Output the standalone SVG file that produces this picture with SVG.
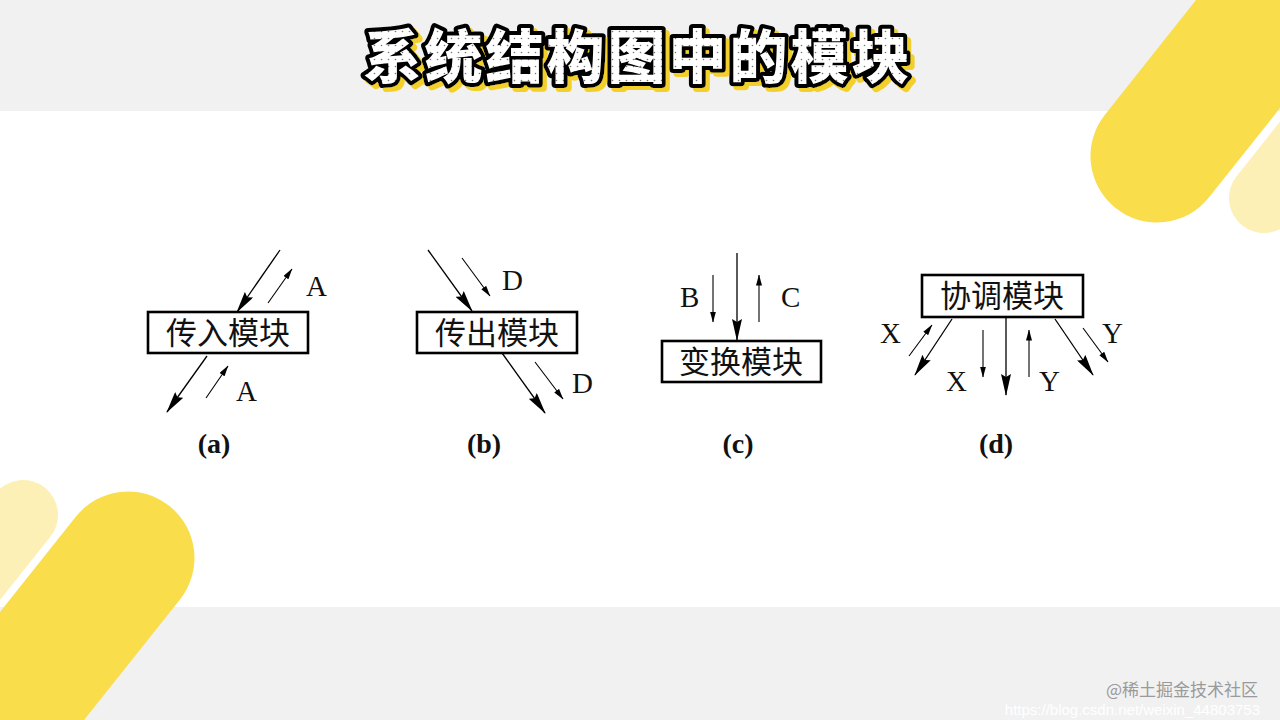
<svg xmlns="http://www.w3.org/2000/svg" width="1280" height="720" viewBox="0 0 1280 720">
<style>
.box{fill:#fff;stroke:#000;stroke-width:2.6}
.btxt{font-family:"Noto Sans CJK SC","Noto Sans CJK JP",sans-serif;font-size:31px;fill:#111;text-anchor:middle}
.lat{font-family:"Liberation Serif","DejaVu Serif",serif;font-size:29px;fill:#111}
.cap{font-family:"Liberation Serif","DejaVu Serif",serif;font-size:28px;font-weight:bold;fill:#111;text-anchor:middle}
.big{stroke:#000;stroke-width:1.3;fill:none;marker-end:url(#hb)}
.sm{stroke:#000;stroke-width:1.1;fill:none;marker-end:url(#hs)}
.ttl{font-family:"Noto Sans CJK SC","Noto Sans CJK JP",sans-serif;font-size:58px;font-weight:900;letter-spacing:3px;text-anchor:middle}
</style>
<defs>
<marker id="hb" viewBox="0 0 22 10" markerWidth="22" markerHeight="10" refX="21" refY="5" orient="auto" markerUnits="userSpaceOnUse">
<path d="M0,0 L22,5 L0,10 L3,5 z" fill="#000"/>
</marker>
<marker id="hs" viewBox="0 0 11 6" markerWidth="11" markerHeight="6" refX="10.5" refY="3" orient="auto" markerUnits="userSpaceOnUse">
<path d="M0,0 L11,3 L0,6 z" fill="#000"/>
</marker>
<pattern id="dots" width="7" height="7" patternUnits="userSpaceOnUse">
<rect width="7" height="7" fill="#fff"/>
<circle cx="3.5" cy="3.5" r="0.8" fill="#777"/>
</pattern>
<filter id="ysh" x="-10%" y="-30%" width="120%" height="160%">
<feDropShadow dx="4" dy="4" stdDeviation="0" flood-color="#f2cf2a" flood-opacity="1"/>
</filter>
</defs>

<g id="background">
<rect x="0" y="0" width="1280" height="720" fill="#ffffff"/>
<rect x="0" y="0" width="1280" height="111" fill="#f1f1f1"/>
<rect x="0" y="607" width="1280" height="113" fill="#f1f1f1"/>
<line x1="1264" y1="198" x2="1500" y2="-99" stroke="#fdf0b6" stroke-width="70" stroke-linecap="round"/>
<line x1="1157" y1="156" x2="1420" y2="-175" stroke="#f9dd4b" stroke-width="133" stroke-linecap="round"/>
<line x1="23" y1="515" x2="-200" y2="795" stroke="#fdf0b6" stroke-width="70" stroke-linecap="round"/>
<line x1="128" y1="558" x2="-130" y2="882" stroke="#f9dd4b" stroke-width="133" stroke-linecap="round"/>
</g>

<g id="title">
<text class="ttl" x="638" y="78" fill="url(#dots)" stroke="#000" stroke-width="8" stroke-linejoin="round" paint-order="stroke" filter="url(#ysh)">系统结构图中的模块</text>
</g>

<g id="node-a">
<rect class="box" x="148" y="312" width="160" height="41"/>
<text class="btxt" x="228" y="344">传入模块</text>
<text class="lat" x="306" y="296">A</text>
<text class="lat" x="236" y="401">A</text>
<text class="cap" x="214" y="453">(a)</text>
</g>

<g id="node-b">
<rect class="box" x="417" y="312" width="160" height="41"/>
<text class="btxt" x="497" y="344">传出模块</text>
<text class="lat" x="502" y="290">D</text>
<text class="lat" x="572" y="393">D</text>
<text class="cap" x="484" y="453">(b)</text>
</g>

<g id="node-c">
<rect class="box" x="662" y="341" width="159" height="41"/>
<text class="btxt" x="741" y="373">变换模块</text>
<text class="lat" x="680" y="307">B</text>
<text class="lat" x="781" y="307">C</text>
<text class="cap" x="738" y="453">(c)</text>
</g>

<g id="node-d">
<rect class="box" x="922" y="275" width="161" height="42"/>
<text class="btxt" x="1002" y="307">协调模块</text>
<text class="lat" x="880" y="343">X</text>
<text class="lat" x="946" y="391">X</text>
<text class="lat" x="1039" y="391">Y</text>
<text class="lat" x="1102" y="343">Y</text>
<text class="cap" x="996" y="453">(d)</text>
</g>

<g id="connectors">
<line class="big" x1="280" y1="250" x2="237" y2="312"/>
<line class="sm" x1="268" y1="303" x2="292" y2="269"/>
<line class="big" x1="207" y1="356" x2="167" y2="412"/>
<line class="sm" x1="206" y1="398" x2="228" y2="366"/>
<line class="big" x1="428" y1="250" x2="472" y2="311"/>
<line class="sm" x1="462" y1="258" x2="490" y2="296"/>
<line class="big" x1="502" y1="353" x2="545" y2="413"/>
<line class="sm" x1="535" y1="362" x2="563" y2="399"/>
<line class="big" x1="737" y1="253" x2="737" y2="340"/>
<line class="sm" x1="713" y1="275" x2="713" y2="322"/>
<line class="sm" x1="759" y1="322" x2="759" y2="275"/>
<line class="big" x1="952" y1="319" x2="915" y2="375"/>
<line class="sm" x1="909" y1="356" x2="932" y2="325"/>
<line class="sm" x1="983" y1="330" x2="983" y2="377"/>
<line class="big" x1="1006" y1="317" x2="1006" y2="395"/>
<line class="sm" x1="1029" y1="377" x2="1029" y2="330"/>
<line class="big" x1="1055" y1="319" x2="1093" y2="375"/>
<line class="sm" x1="1083" y1="328" x2="1108" y2="362"/>
</g>

<g id="watermark">
<text x="1260" y="715" font-family="'Liberation Sans',sans-serif" font-size="15" fill="#ffffff" text-anchor="end">https://blog.csdn.net/weixin_44803753</text>
<text x="1258" y="696" font-family="'Noto Sans CJK SC',sans-serif" font-size="17" fill="#9a9a9a" text-anchor="end">@稀土掘金技术社区</text>
</g>
</svg>
